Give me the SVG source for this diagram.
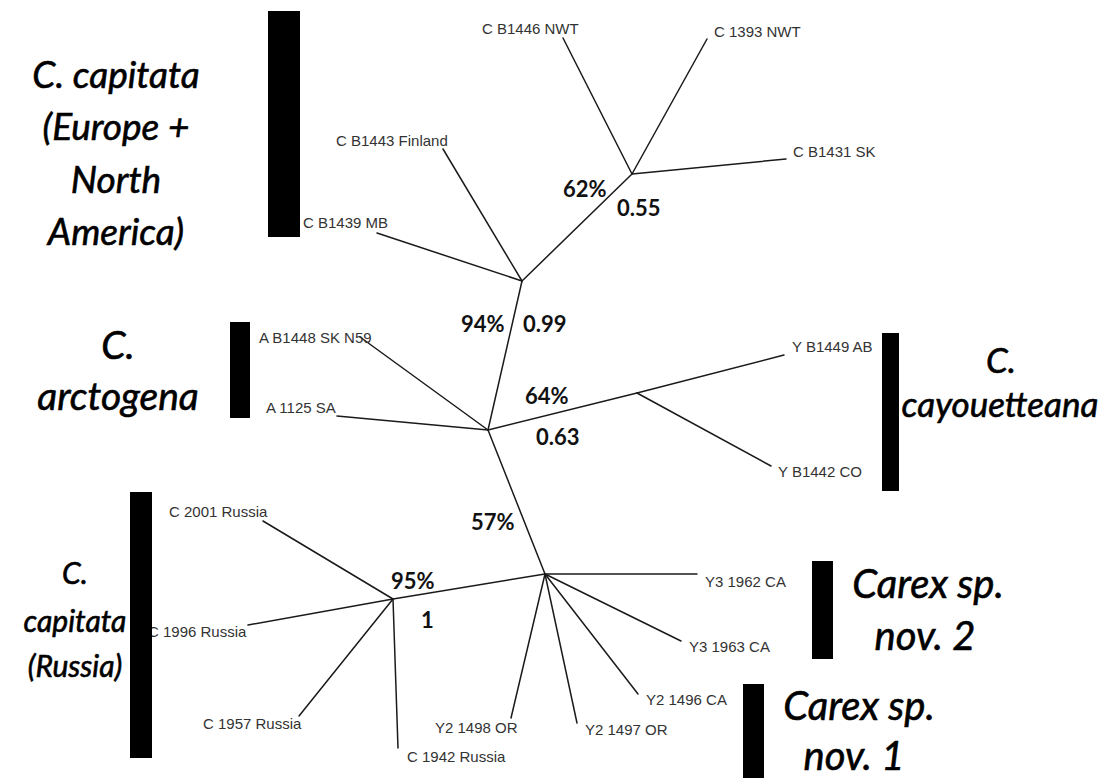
<svg xmlns="http://www.w3.org/2000/svg" width="1104" height="778" viewBox="0 0 1104 778">
<style>
.bg{fill:#fff}
.edge{stroke:#1a1a1a;stroke-width:1.5;fill:none;stroke-linecap:round}
.leaf{font-family:"Liberation Sans",Arial,sans-serif;font-size:15px;fill:#333}
.sup{font-family:Lato,"Open Sans",sans-serif;font-size:22px;font-weight:700;fill:#111}
.clade{font-family:Lato,"Open Sans",sans-serif;font-style:italic;fill:#000;stroke:#000;stroke-width:0.6;text-anchor:middle}
.bar{fill:#000}
</style>
<rect class="bg" x="0" y="0" width="1104" height="778"/>

<g id="connectors">
  <line class="edge" x1="632" y1="174" x2="563" y2="38"/>
  <line class="edge" x1="632" y1="174" x2="707" y2="39"/>
  <line class="edge" x1="632" y1="174" x2="786" y2="159"/>
  <line class="edge" x1="632" y1="174" x2="522" y2="281"/>
  <line class="edge" x1="522" y1="281" x2="443" y2="149"/>
  <line class="edge" x1="522" y1="281" x2="377" y2="233"/>
  <line class="edge" x1="522" y1="281" x2="488" y2="430"/>
  <line class="edge" x1="488" y1="430" x2="360" y2="337"/>
  <line class="edge" x1="488" y1="430" x2="337" y2="416"/>
  <line class="edge" x1="488" y1="430" x2="637" y2="393"/>
  <line class="edge" x1="637" y1="393" x2="784" y2="355"/>
  <line class="edge" x1="637" y1="393" x2="771" y2="466"/>
  <line class="edge" x1="488" y1="430" x2="545" y2="574"/>
  <line class="edge" x1="545" y1="574" x2="393" y2="599"/>
  <line class="edge" x1="393" y1="599" x2="263" y2="521"/>
  <line class="edge" x1="393" y1="599" x2="248" y2="625"/>
  <line class="edge" x1="393" y1="599" x2="299" y2="716"/>
  <line class="edge" x1="393" y1="599" x2="398" y2="748"/>
  <line class="edge" x1="545" y1="574" x2="511" y2="718"/>
  <line class="edge" x1="545" y1="574" x2="577" y2="723"/>
  <line class="edge" x1="545" y1="574" x2="638" y2="694"/>
  <line class="edge" x1="545" y1="574" x2="681" y2="641"/>
  <line class="edge" x1="545" y1="574" x2="697" y2="574"/>
</g>

<g id="leaf-CB1446"><text class="leaf" x="482" y="34">C B1446 NWT</text></g>
<g id="leaf-C1393"><text class="leaf" x="714" y="37">C 1393 NWT</text></g>
<g id="leaf-CB1431"><text class="leaf" x="793" y="157">C B1431 SK</text></g>
<g id="leaf-CB1443"><text class="leaf" x="336" y="146">C B1443 Finland</text></g>
<g id="leaf-CB1439"><text class="leaf" x="303" y="228">C B1439 MB</text></g>
<g id="leaf-AB1448"><text class="leaf" x="259" y="343">A B1448 SK N59</text></g>
<g id="leaf-A1125"><text class="leaf" x="266" y="413">A 1125 SA</text></g>
<g id="leaf-YB1449"><text class="leaf" x="792" y="352">Y B1449 AB</text></g>
<g id="leaf-YB1442"><text class="leaf" x="778" y="477">Y B1442 CO</text></g>
<g id="leaf-C2001"><text class="leaf" x="169" y="517">C 2001 Russia</text></g>
<g id="leaf-C1996"><text class="leaf" x="148" y="637">C 1996 Russia</text></g>
<g id="leaf-C1957"><text class="leaf" x="203" y="729">C 1957 Russia</text></g>
<g id="leaf-C1942"><text class="leaf" x="407" y="762">C 1942 Russia</text></g>
<g id="leaf-Y21498"><text class="leaf" x="435" y="733">Y2 1498 OR</text></g>
<g id="leaf-Y21497"><text class="leaf" x="585" y="735">Y2 1497 OR</text></g>
<g id="leaf-Y21496"><text class="leaf" x="646" y="705">Y2 1496 CA</text></g>
<g id="leaf-Y31963"><text class="leaf" x="689" y="652">Y3 1963 CA</text></g>
<g id="leaf-Y31962"><text class="leaf" x="705" y="587">Y3 1962 CA</text></g>

<g id="support-62"><text class="sup" x="563" y="197">62%</text><text class="sup" x="617" y="216">0.55</text></g>
<g id="support-94"><text class="sup" x="461" y="332">94%</text><text class="sup" x="523" y="332">0.99</text></g>
<g id="support-64"><text class="sup" x="525" y="404">64%</text><text class="sup" x="536" y="445">0.63</text></g>
<g id="support-57"><text class="sup" x="471" y="530">57%</text></g>
<g id="support-95"><text class="sup" x="391" y="589">95%</text><text class="sup" x="421" y="628">1</text></g>

<g id="clade-capitata-eu-na">
  <rect class="bar" x="268" y="11" width="32" height="226"/>
  <text class="clade" font-size="37" x="116" y="88">C. capitata</text>
  <text class="clade" font-size="37" x="116" y="140">(Europe +</text>
  <text class="clade" font-size="37" x="116" y="193">North</text>
  <text class="clade" font-size="37" x="116" y="245">America)</text>
</g>
<g id="clade-arctogena">
  <rect class="bar" x="230" y="322" width="20" height="96"/>
  <text class="clade" font-size="39" x="118" y="359">C.</text>
  <text class="clade" font-size="39" x="118" y="410">arctogena</text>
</g>
<g id="clade-cayouetteana">
  <rect class="bar" x="882" y="333" width="17" height="158"/>
  <text class="clade" font-size="35" x="1001" y="373">C.</text>
  <text class="clade" font-size="35" x="1000" y="417">cayouetteana</text>
</g>
<g id="clade-capitata-russia">
  <rect class="bar" x="130" y="492" width="22" height="266"/>
  <text class="clade" font-size="30" x="75" y="584">C.</text>
  <text class="clade" font-size="30" x="75" y="632">capitata</text>
  <text class="clade" font-size="30" x="75" y="677">(Russia)</text>
</g>
<g id="clade-nov2">
  <rect class="bar" x="812" y="561" width="21" height="98"/>
  <text class="clade" font-size="40" x="928" y="598">Carex sp.</text>
  <text class="clade" font-size="40" x="925" y="650">nov. 2</text>
</g>
<g id="clade-nov1">
  <rect class="bar" x="743" y="684" width="21" height="94"/>
  <text class="clade" font-size="40" x="859" y="720">Carex sp.</text>
  <text class="clade" font-size="40" x="854" y="770">nov. 1</text>
</g>
</svg>
